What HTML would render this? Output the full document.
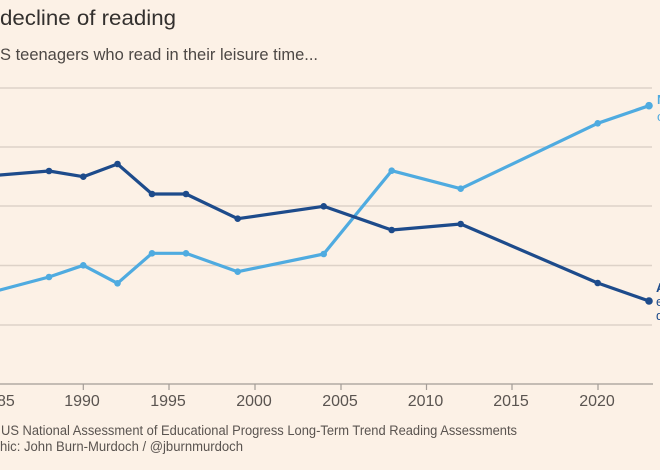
<!DOCTYPE html>
<html><head><meta charset="utf-8"><style>
html,body{margin:0;padding:0;background:#fcf1e6;}
svg{display:block;}
text{font-family:"Liberation Sans",sans-serif;}
</style></head><body>
<svg width="660" height="470" viewBox="0 0 660 470" xmlns="http://www.w3.org/2000/svg">
<rect width="660" height="470" fill="#fcf1e6"/>
<text x="0" y="25" font-size="21" fill="#33302e" textLength="176" lengthAdjust="spacingAndGlyphs">decline of reading</text>
<text x="0" y="60" font-size="17" fill="#4d4845" textLength="318" lengthAdjust="spacingAndGlyphs">S teenagers who read in their leisure time...</text>
<g stroke="#ddd2c8" stroke-width="1.5">
<line x1="0" y1="88" x2="652" y2="88"/>
<line x1="0" y1="147" x2="652" y2="147"/>
<line x1="0" y1="206" x2="652" y2="206"/>
<line x1="0" y1="265.5" x2="652" y2="265.5"/>
<line x1="0" y1="325" x2="652" y2="325"/>
</g>
<line x1="0" y1="384" x2="653" y2="384" stroke="#a39c96" stroke-width="1.2"/>
<g stroke="#a39c96" stroke-width="1.2">
<line x1="83.3" y1="384" x2="83.3" y2="390"/>
<line x1="169" y1="384" x2="169" y2="390"/>
<line x1="255" y1="384" x2="255" y2="390"/>
<line x1="341" y1="384" x2="341" y2="390"/>
<line x1="426.5" y1="384" x2="426.5" y2="390"/>
<line x1="512" y1="384" x2="512" y2="390"/>
<line x1="598" y1="384" x2="598" y2="390"/>
</g>
<g font-size="16" fill="#5a5450" text-anchor="middle">
<text x="-3" y="406">1985</text>
<text x="82" y="406">1990</text>
<text x="168" y="406">1995</text>
<text x="254" y="406">2000</text>
<text x="340" y="406">2005</text>
<text x="425.5" y="406">2010</text>
<text x="511" y="406">2015</text>
<text x="597" y="406">2020</text>
</g>
<text x="1" y="435" font-size="13.5" fill="#5a5450" textLength="516" lengthAdjust="spacingAndGlyphs">US National Assessment of Educational Progress Long-Term Trend Reading Assessments</text>
<text x="0" y="451" font-size="13.5" fill="#5a5450" textLength="243" lengthAdjust="spacingAndGlyphs">hic: John Burn-Murdoch / @jburnmurdoch</text>

<polyline fill="none" stroke="#4fabe0" stroke-width="3.2" stroke-linejoin="round" points="-19.5,295.2 49,277 83.3,265.3 117.5,283.3 152,253.3 186,253.3 237.7,271.7 323.7,254 391.7,170.7 460.7,188.7 597.7,123.3 649,105.7"/>
<g fill="#4fabe0">
<circle cx="49" cy="277" r="3.3"/><circle cx="83.3" cy="265.3" r="3.3"/><circle cx="117.5" cy="283.3" r="3.3"/><circle cx="152" cy="253.3" r="3.3"/><circle cx="186" cy="253.3" r="3.3"/><circle cx="237.7" cy="271.7" r="3.3"/><circle cx="323.7" cy="254" r="3.3"/><circle cx="391.7" cy="170.7" r="3.3"/><circle cx="460.7" cy="188.7" r="3.3"/><circle cx="597.7" cy="123.3" r="3.3"/><circle cx="649" cy="105.7" r="3.8"/>
</g>

<polyline fill="none" stroke="#1d4b8b" stroke-width="3.2" stroke-linejoin="round" points="-19.5,176.6 49,171 83.3,176.7 117.5,164 152,194 186,194 237.7,218.7 323.7,206.3 391.7,230 460.7,224 597.7,283 649,301"/>
<g fill="#1d4b8b">
<circle cx="49" cy="171" r="3.3"/><circle cx="83.3" cy="176.7" r="3.3"/><circle cx="117.5" cy="164" r="3.3"/><circle cx="152" cy="194" r="3.3"/><circle cx="186" cy="194" r="3.3"/><circle cx="237.7" cy="218.7" r="3.3"/><circle cx="323.7" cy="206.3" r="3.3"/><circle cx="391.7" cy="230" r="3.3"/><circle cx="460.7" cy="224" r="3.3"/><circle cx="597.7" cy="283" r="3.3"/><circle cx="649" cy="301" r="3.8"/>
</g>

<g font-size="13" font-weight="bold" fill="#4fabe0">
<text x="657" y="104">Never</text>
<text x="657" y="121" font-weight="normal">or hardly ever</text>
</g>
<g font-size="13" font-weight="bold" fill="#1d4b8b">
<text x="656" y="292">Almost</text>
<text x="656" y="306" font-weight="normal">every</text>
<text x="656" y="320" font-weight="normal">day</text>
</g>
</svg>
</body></html>
